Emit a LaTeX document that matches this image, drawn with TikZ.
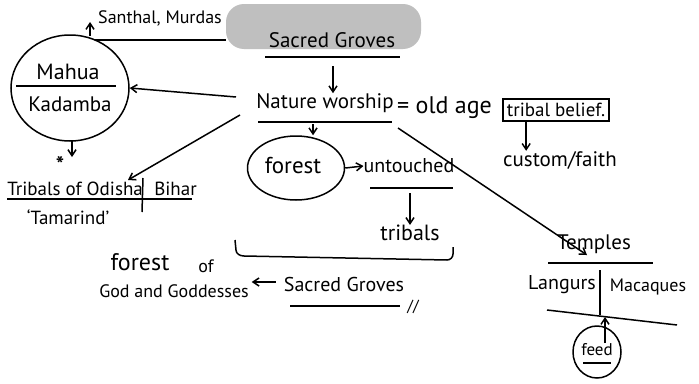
\documentclass[tikz,border=0pt]{standalone}
\usepackage{fontspec}
\setmainfont{PT Sans}
\usetikzlibrary{arrows.meta,shapes.geometric}
\newcommand{\fs}[1]{\fontsize{#1}{#1}\selectfont}
\begin{document}
\begin{tikzpicture}[x=1pt,y=-1pt,
  ink/.style={line width=1.5pt,black},
  arr/.style={ink,-{Straight Barb[length=6pt,width=8pt]}},
  txt/.style={inner sep=0pt}]
\useasboundingbox (0,0) rectangle (699,383);
\fill[white] (0,0) rectangle (699,383);

% shaded title patch
\fill[gray!50,rounded corners=18pt] (226,4) rectangle (421,49);

% title
\node[txt,font=\fs{21}] (sg) at (332,40) {Sacred Groves};
\draw[ink] (265,57) -- (400,57);

% Nature worship line
\node[txt,font=\fs{21}] (nw) at (325,103) {Nature worship};
\draw[ink] (258,122) -- (392,122);
\node[txt,anchor=west,font=\fs{24}] (eq) at (397,108) {= old age};
\node[txt,draw,line width=1.5pt,inner sep=4pt,font=\fs{19}] (tb) at (556,110) {tribal belief.};
\node[txt,font=\fs{21}] (cf) at (560,160) {custom/faith};

% Mahua / Kadamba circle
\node[ellipse,ink,draw,minimum width=118pt,minimum height=106pt] (mk) at (70,88) {};
\node[txt,font=\fs{22}] (mahua) at (68,72) {Mahua};
\node[txt,font=\fs{21}] (kad) at (70,104) {Kadamba};
\draw[ink] (16,86) -- (116,86);
\node[txt,font=\fs{18}] (sm) at (160,18) {Santhal, Murdas};
\draw[ink] (95,40) -- (226,40);
\node[txt,font=\fs{22}\bfseries] (ast) at (60,164) {*};

% tribals of Odisha / Bihar
\node[txt,font=\fs{19}] (tob) at (102,189) {Tribals of Odisha \,\,Bihar};
\draw[ink] (7,199) -- (192,199);
\draw[ink] (143,178) -- (142,212);
\node[txt,font=\fs{19}] (tam) at (68,217) {`Tamarind'};

% forest / untouched / tribals
\node[ellipse,ink,draw,minimum width=97pt,minimum height=64pt] (fo) at (296,168) {};
\node[txt,font=\fs{23}] (fot) at (293,166) {forest};
\node[txt,font=\fs{20}] (un) at (409,166) {untouched};
\draw[ink] (370,188) -- (453,188);
\node[txt,font=\fs{22}] (tr) at (410,233) {tribals};
\draw[ink] (235,240) -- (236,250) to[out=-90,in=180] (244,256) -- (447,260) to[out=0,in=-90] (453,254) -- (453,247);

% forest of God and Goddesses
\node[txt,font=\fs{24}] (fg) at (140,262) {forest};
\node[txt,font=\fs{18}] (of) at (206,266) {of};
\node[txt,font=\fs{18}] (gg) at (174,291) {God and Goddesses};
\node[txt,font=\fs{20}] (sg2) at (344,284) {Sacred Groves};
\draw[ink] (290,306) -- (400,306);
\node[txt,font=\fs{16}] (tick) at (413,307) {//};

% temples
\node[txt,font=\fs{21}] (te) at (594,244) {Temples};
\draw[ink] (548,263) -- (653,263);
\node[txt,font=\fs{20}] (la) at (562,285) {Langurs};
\node[txt,font=\fs{18}] (ma) at (648,287) {Macaques};
\draw[ink] (600,270) -- (600,315);
\coordinate (tl) at (605,317);
\draw[ink] (547,310) -- (677,325);
\node[ellipse,ink,draw,minimum width=48pt,minimum height=52pt] (fe) at (597,352) {};
\node[txt,font=\fs{17}] (fet) at (597,350) {feed};
\draw[ink] (583,363) -- (611,363);

% connectors
\draw[arr] (333,66) -- (nw.north -| 333,0);
\draw[arr] (236,97) -- (mk.east);
\draw[arr] (90,36) -- (90,22);
\draw[arr] (72,140) -- (72,157);
\draw[arr] (240,115) -- (128,180);
\draw[arr] (313,124) -- (fo.north -| 313,0);
\draw[arr] (fo.east) -- (un.west);
\draw[arr] (410,193) -- (tr.north);
\draw[arr] (tb.south west) ++(24,0) coordinate (a6) -- (a6 |- cf.north);
\draw[arr] (398,128) -- (587,255);
\draw[arr] (605,343) -- (tl);
\draw[arr] (sg2.west) ++(-8,-2) coordinate (a9) -- ++(-24,0);
\end{tikzpicture}
\end{document}
